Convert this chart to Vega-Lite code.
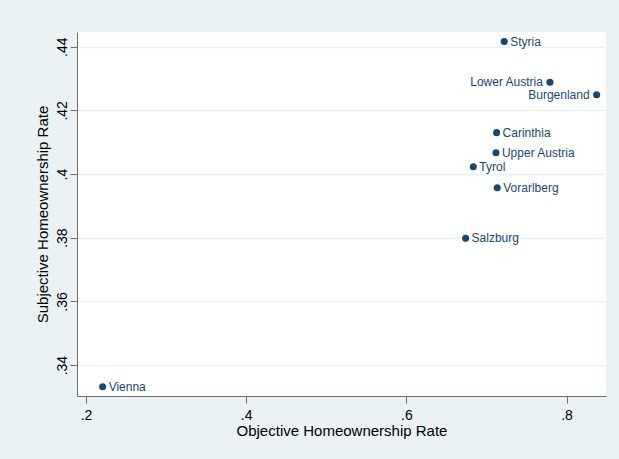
{
  "$schema": "https://vega.github.io/schema/vega-lite/v6.json",
  "autosize": {"type": "none"},
  "padding": {"left": 77, "top": 32, "right": 13, "bottom": 63},
  "width": 529,
  "height": 364,
  "background": "#eaf2f3",
  "config": {
    "view": {"fill": "white", "stroke": null},
    "font": "Liberation Sans"
  },
  "data": {
    "values": [
      {"region": "Styria", "objective": 0.7222, "subjective": 0.4416},
      {"region": "Lower Austria", "objective": 0.7793, "subjective": 0.4288},
      {"region": "Burgenland", "objective": 0.8376, "subjective": 0.4249},
      {"region": "Carinthia", "objective": 0.7127, "subjective": 0.4130},
      {"region": "Upper Austria", "objective": 0.7119, "subjective": 0.4067},
      {"region": "Tyrol", "objective": 0.6836, "subjective": 0.4023},
      {"region": "Vorarlberg", "objective": 0.7135, "subjective": 0.3957},
      {"region": "Salzburg", "objective": 0.6740, "subjective": 0.3798},
      {"region": "Vienna", "objective": 0.2208, "subjective": 0.3332}
    ]
  },
  "encoding": {
    "x": {
      "field": "objective",
      "type": "quantitative",
      "title": "Objective Homeownership Rate",
      "scale": {"domain": [0.1888, 0.8493], "nice": false, "zero": false},
      "axis": {
        "values": [0.2, 0.4, 0.6, 0.8],
        "labelExpr": "substring(format(datum.value, '.2~f'), 1)",
        "grid": false,
        "domainColor": "#6e6e6e",
        "tickColor": "#6e6e6e",
        "tickSize": 7,
        "labelPadding": 5,
        "labelFontSize": 14,
        "labelColor": "#000000",
        "titleFontSize": 15,
        "titleFontWeight": "normal",
        "titleColor": "#000000",
        "titlePadding": 1
      }
    },
    "y": {
      "field": "subjective",
      "type": "quantitative",
      "title": "Subjective Homeownership Rate",
      "scale": {"domain": [0.3303, 0.4446], "nice": false, "zero": false},
      "axis": {
        "values": [0.34, 0.36, 0.38, 0.4, 0.42, 0.44],
        "labelExpr": "substring(format(datum.value, '.2~f'), 1)",
        "grid": true,
        "gridColor": "#eaf2f3",
        "gridWidth": 1.5,
        "domainColor": "#6e6e6e",
        "tickColor": "#6e6e6e",
        "tickSize": 7,
        "labelAngle": -90,
        "labelAlign": "center",
        "labelBaseline": "alphabetic",
        "labelPadding": 4,
        "labelFontSize": 14,
        "labelColor": "#000000",
        "titleFontSize": 15,
        "titleFontWeight": "normal",
        "titleColor": "#000000",
        "titlePadding": 5
      }
    }
  },
  "layer": [
    {
      "mark": {"type": "circle", "size": 50, "color": "#1a476f", "opacity": 1}
    },
    {
      "transform": [{"filter": "datum.region != 'Lower Austria' && datum.region != 'Burgenland'"}],
      "mark": {"type": "text", "align": "left", "baseline": "middle", "dx": 6, "fontSize": 12, "color": "#1a476f"},
      "encoding": {"text": {"field": "region"}}
    },
    {
      "transform": [{"filter": "datum.region == 'Lower Austria' || datum.region == 'Burgenland'"}],
      "mark": {"type": "text", "align": "right", "baseline": "middle", "dx": -7, "fontSize": 12, "color": "#1a476f"},
      "encoding": {"text": {"field": "region"}}
    }
  ]
}
